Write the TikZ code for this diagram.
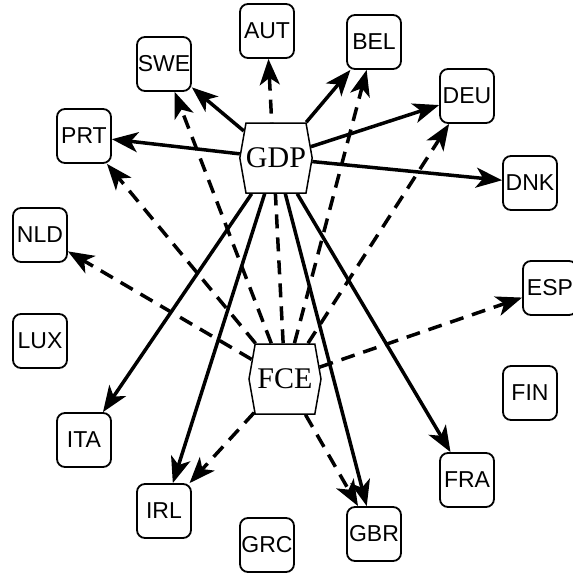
\documentclass[tikz,border=0pt]{standalone}
\usepackage{fontspec}
\setmainfont{Liberation Serif}
\setsansfont{Liberation Sans}
\usetikzlibrary{shapes.symbols,arrows.meta}
\pgfdeclarelayer{bg}
\pgfsetlayers{bg,main}
\begin{document}
\begin{tikzpicture}[x=1pt,y=-1pt,
  country/.style={draw,line width=1.8pt,rounded corners=8pt,minimum width=54pt,minimum height=54pt,inner sep=0pt,font=\sffamily\fontsize{23}{26}\selectfont},
  var/.style={draw,line width=1.5pt,fill=white,shape=signal,signal to=east and west,signal pointer angle=160,minimum width=72pt,minimum height=70pt,inner sep=0pt,font=\fontsize{30}{33}\selectfont},
  sol/.style={line width=3.5pt,-{Stealth[length=26pt,width=20pt,inset=7pt]}},
  dsh/.style={sol,dash pattern=on 14pt off 9pt}]
\useasboundingbox (0,0) rectangle (573,574);
\node[var] (GDP) at (276,158) {GDP};
\node[var] (FCE) at (285,379) {FCE};
\node[country] (AUT) at (267,31) {AUT};
\node[country] (SWE) at (164,64) {SWE};
\node[country] (PRT) at (84,136) {PRT};
\node[country] (NLD) at (40,235) {NLD};
\node[country] (LUX) at (40,341) {LUX};
\node[country] (ITA) at (84,440) {ITA};
\node[country] (IRL) at (164,511) {IRL};
\node[country] (GRC) at (267,545) {GRC};
\node[country] (GBR) at (374,534) {GBR};
\node[country] (FRA) at (467,480) {FRA};
\node[country] (FIN) at (530,393) {FIN};
\node[country] (ESP) at (550,288) {ESP};
\node[country] (DNK) at (530,183) {DNK};
\node[country] (DEU) at (467,96) {DEU};
\node[country] (BEL) at (374,42) {BEL};
\begin{pgfonlayer}{bg}
\foreach \t in {SWE,PRT,BEL,DEU,DNK,ITA,IRL,GBR,FRA}
  \draw[sol] (GDP) -- (\t);
\foreach \t in {AUT,SWE,PRT,NLD,BEL,DEU,ESP,IRL,GBR}
  \draw[dsh] (FCE) -- (\t);
\end{pgfonlayer}
\end{tikzpicture}
\end{document}
